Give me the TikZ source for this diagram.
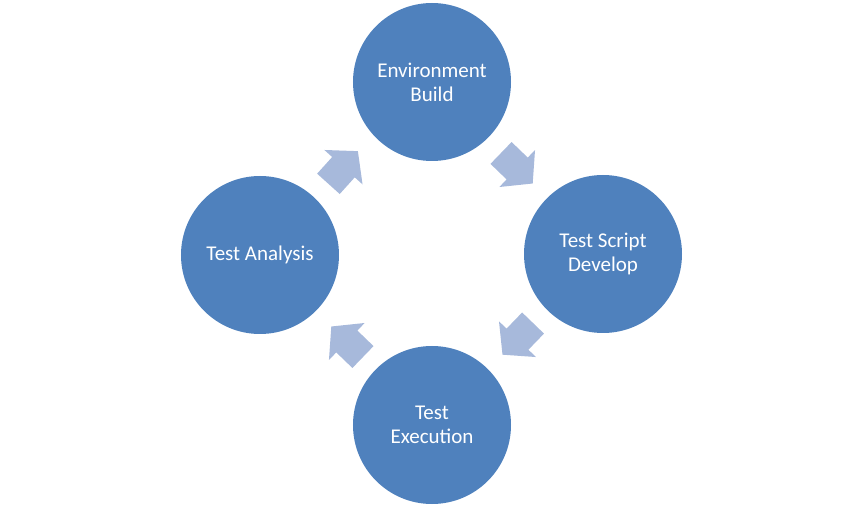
\documentclass[tikz,border=0pt]{standalone}
\usepackage{fontspec}
\setmainfont{Carlito}
\usepackage{xcolor}
\definecolor{stageblue}{RGB}{79,129,189}
\definecolor{arrowblue}{RGB}{167,185,219}
\usepackage{tikz}
\usetikzlibrary{shapes.arrows}
\tikzset{
    stage/.style={circle, fill=stageblue, minimum size=158pt, inner sep=0pt, text=white, align=center, font=\fontsize{21}{24}\selectfont},
    cyclearrow/.style={single arrow, fill=arrowblue, minimum height=44pt, single arrow head extend=10.5pt, single arrow tip angle=100, inner xsep=0pt, inner ysep=15pt, anchor=tail}
}
\begin{document}
\begin{tikzpicture}[x=1pt, y=1pt]
      \useasboundingbox (-432,-254) rectangle (432,254);

      \path
          node[stage] (env-build) at (0,172) {Environment\\Build}
          node[stage] (script-develop) at (171,0) {Test Script\\Develop}
          node[stage] (execution) at (0,-171) {Test\\Execution}
          node[stage] (analysis) at (-172,-1) {Test Analysis};

      \path
          node[cyclearrow, rotate=48] (analysis-to-env) at (-103.7,70) {}
          node[cyclearrow, rotate=-44] (env-to-script) at (68.9,101.2) {}
          node[cyclearrow, rotate=-134] (script-to-execution) at (101.2,-68.9) {}
          node[cyclearrow, rotate=136] (execution-to-analysis) at (-68.9,-103.2) {};
    \end{tikzpicture}
\end{document}
